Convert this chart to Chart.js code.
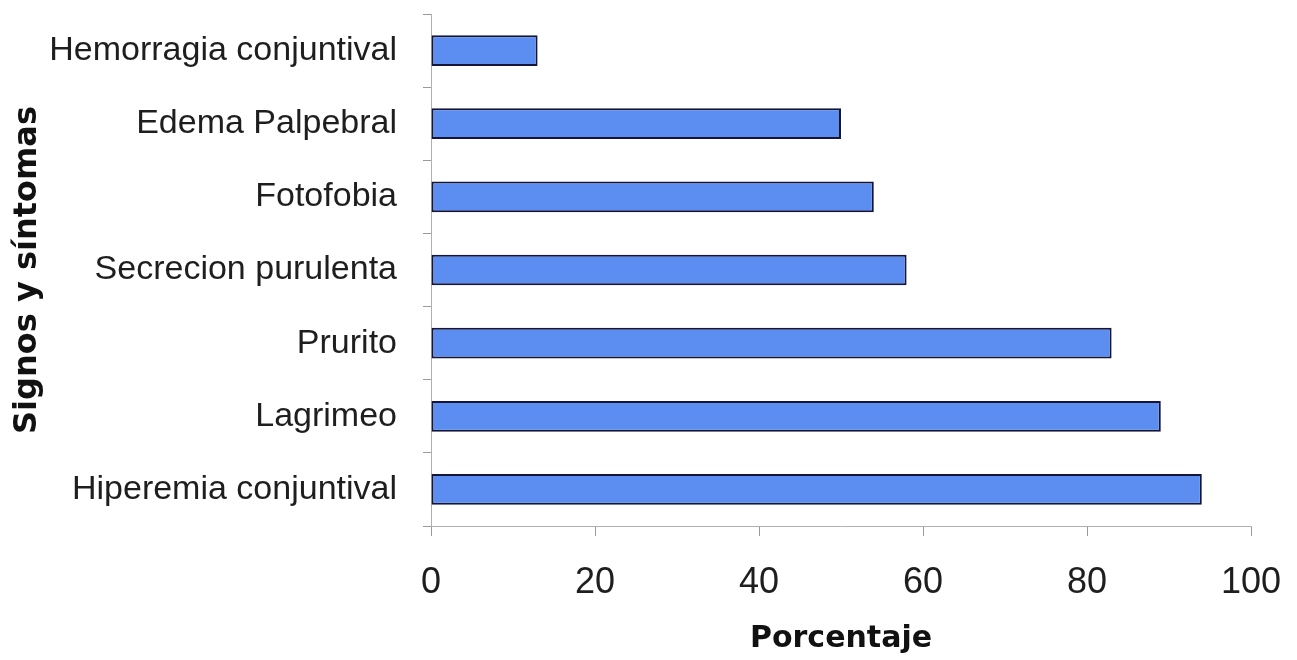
<!DOCTYPE html>
<html lang="es">
<head>
<meta charset="utf-8">
<title>Signos y síntomas</title>
<script src="https://cdn.jsdelivr.net/npm/chart.js@4.4.1/dist/chart.umd.min.js"></script>
<style>
  html, body { margin: 0; padding: 0; background: #ffffff; }
  #wrap { width: 1297px; height: 660px; }
</style>
</head>
<body>
<div id="wrap"><canvas id="grafico" width="1297" height="660"></canvas></div>
<script>
// Signos y síntomas (categorías) y porcentaje de pacientes
const categorias = [
  'Hemorragia conjuntival',
  'Edema Palpebral',
  'Fotofobia',
  'Secrecion purulenta',
  'Prurito',
  'Lagrimeo',
  'Hiperemia conjuntival'
];
const porcentajes = [13, 50, 54, 58, 83, 89, 94];
const ejeMin = 0;
const ejeMax = 100;
const ejePaso = 20;

const ctx = document.getElementById('grafico').getContext('2d');
new Chart(ctx, {
  type: 'bar',
  data: {
    labels: categorias,
    datasets: [{
      data: porcentajes,
      backgroundColor: '#5b8ef0',
      borderColor: '#15153a',
      borderWidth: 2,
      borderSkipped: false,
      categoryPercentage: 1,
      barPercentage: 0.42
    }]
  },
  options: {
    indexAxis: 'y',
    responsive: false,
    animation: false,
    layout: { padding: { top: 14, right: 46, left: 0, bottom: 0 } },
    plugins: {
      legend: { display: false },
      tooltip: { enabled: false }
    },
    scales: {
      x: {
        min: ejeMin,
        max: ejeMax,
        ticks: {
          stepSize: ejePaso,
          color: '#1e1e1e',
          padding: 25,
          font: { family: '"Liberation Sans", Arial, sans-serif', size: 36 }
        },
        grid: {
          drawOnChartArea: false,
          drawTicks: true,
          tickLength: 10,
          color: '#9a9a9a'
        },
        border: { color: '#b0b0b0', width: 1 },
        title: {
          display: true,
          text: 'Porcentaje',
          color: '#111111',
          padding: { top: 0, bottom: 3 },
          font: { family: '"DejaVu Sans", Verdana, sans-serif', size: 30, weight: 'bold' }
        },
        afterFit: (scale) => {
          scale.height = 134;
          scale.paddingLeft = 0;
          scale.paddingRight = 0;
        }
      },
      y: {
        ticks: {
          color: '#1e1e1e',
          padding: 26,
          font: { family: '"Liberation Sans", Arial, sans-serif', size: 34 }
        },
        grid: {
          drawOnChartArea: false,
          drawTicks: true,
          tickLength: 8,
          color: '#9a9a9a'
        },
        border: { color: '#b0b0b0', width: 1 },
        title: {
          display: true,
          text: 'Signos y síntomas',
          color: '#111111',
          padding: { top: 8, bottom: 0 },
          font: { family: '"DejaVu Sans", Verdana, sans-serif', size: 32, weight: 'bold' }
        },
        afterFit: (scale) => {
          scale.width = 431;
          scale.paddingTop = 0;
          scale.paddingBottom = 0;
        }
      }
    }
  }
});
</script>
</body>
</html>
